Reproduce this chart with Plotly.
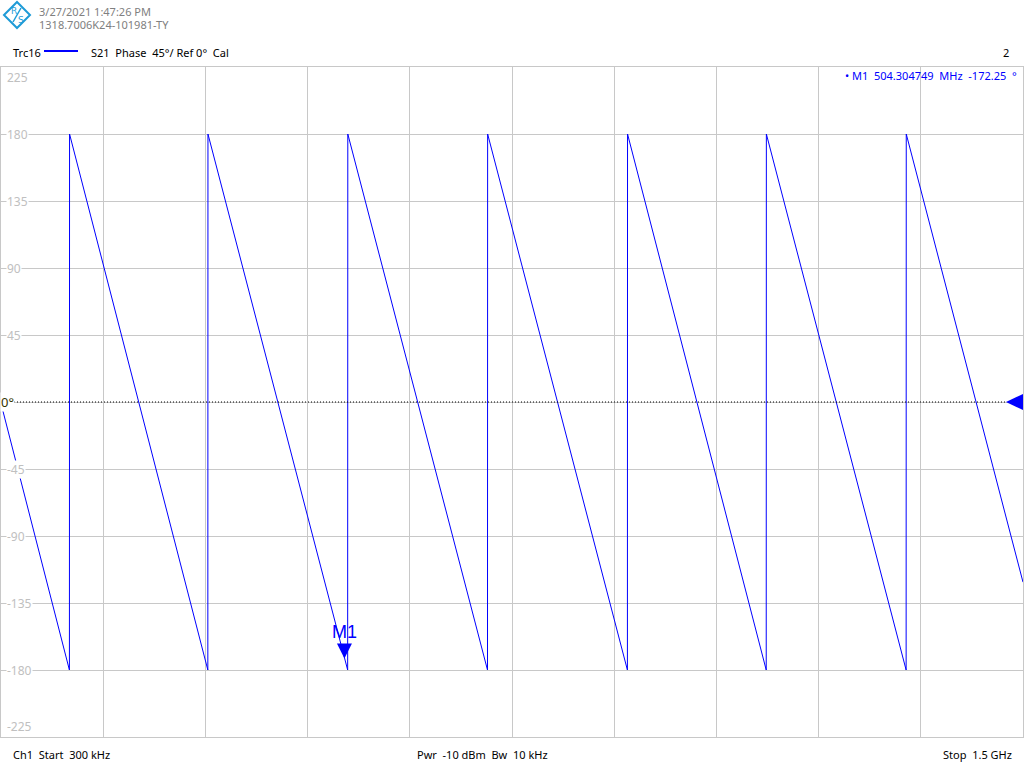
import plotly.graph_objects as go

# ---------------- data ----------------
freq_mhz = [0.3, 100.7, 100.9, 303.8, 304.0, 509.0, 509.2, 714.2, 714.4,
            919.5, 919.7, 1123.2, 1123.4, 1328.5, 1328.7, 1500.0]
phase_deg = [-1, -180, 180, -180, 180, -180, 180, -180, 180,
             -180, 180, -180, 180, -180, 180, -121]

y_ticks = [225, 180, 135, 90, 45, 0, -45, -90, -135, -180, -225]
y_tick_labels = ["225", "180", "135", "90", "45", "0°", "-45", "-90", "-135", "-180", "-225"]

x_start_mhz = 0.3
x_stop_mhz = 1500.0
x_divisions = 10

marker_name = "M1"
marker_freq_mhz = 504.304749
marker_phase_deg = -172.25

header_date = "3/27/2021 1:47:26 PM"
header_serial = "1318.7006K24-101981-TY"
trace_name = "Trc16"
trace_info = "S21  Phase  45°/ Ref 0°  Cal"
window_no = "2"
footer_left = "Ch1  Start  300 kHz"
footer_mid = "Pwr  -10 dBm  Bw  10 kHz"
footer_right = "Stop  1.5 GHz"

# ---------------- layout helpers ----------------
W, H = 1024, 768
PL, PR, PT, PB = 1, 1023, 67, 737  # plot area in pixels
FONT = "Noto Sans"
BLUE = "#0000FF"
GRID = "#C8C8C8"
LOGO = "#1E9BD7"


def px(x):
    return (x - PL) / (PR - PL)


def py(y):
    return (PB - y) / (PB - PT)


fig = go.Figure()
fig.add_trace(go.Scatter(x=freq_mhz, y=phase_deg, mode="lines",
                         line=dict(color=BLUE, width=1), hoverinfo="skip",
                         showlegend=False))

ann = []
shapes = []

# tick labels inside the plot
for v, t in zip(y_ticks, y_tick_labels):
    if v == 0:
        continue
    if v == y_ticks[0]:
        ya, ys = "top", -1
    elif v == y_ticks[-1]:
        ya, ys = "bottom", 1
    else:
        ya, ys = "middle", 0
    ann.append(dict(x=px(6), xref="paper", y=v, yref="y", text=t,
                    xanchor="left", yanchor=ya, yshift=ys, showarrow=False,
                    bgcolor="white", borderpad=0,
                    font=dict(family=FONT, size=12, color="#C0C0C0")))

# reference line at 0 (dotted) + label + left-pointing triangle
shapes.append(dict(type="line", xref="paper", yref="y", x0=px(14), x1=px(1007),
                   y0=0, y1=0, line=dict(color="black", width=1, dash="1px,2px")))
ann.append(dict(x=px(0), xref="paper", y=0, yref="y", text="0°",
                xanchor="left", yanchor="middle", showarrow=False,
                bgcolor="white", borderpad=0,
                font=dict(family=FONT, size=13, color="#333300")))
ref_tip_x = px(1006)
ref_base_x = px(1023)
dy = 8 / (PB - PT) * (y_ticks[0] - y_ticks[-1])
shapes.append(dict(type="path", xref="paper", yref="y",
                   path=f"M {ref_tip_x} 0 L {ref_base_x} {dy} L {ref_base_x} {-dy} Z",
                   fillcolor=BLUE, line=dict(width=0)))

# marker triangle (tip at the marker value) and label
mhz_per_px = (x_stop_mhz - x_start_mhz) / (PR - PL)
deg_per_px = (y_ticks[0] - y_ticks[-1]) / (PB - PT)
hw = 7.5 * mhz_per_px
th = 15 * deg_per_px
shapes.append(dict(type="path", xref="x", yref="y",
                   path=(f"M {marker_freq_mhz} {marker_phase_deg} "
                         f"L {marker_freq_mhz - hw} {marker_phase_deg + th} "
                         f"L {marker_freq_mhz + hw} {marker_phase_deg + th} Z"),
                   fillcolor=BLUE, line=dict(width=0)))
ann.append(dict(x=marker_freq_mhz, xref="x", y=marker_phase_deg + th, yref="y",
                text=marker_name, xanchor="center", yanchor="bottom", yshift=-1,
                showarrow=False,
                font=dict(family="Liberation Sans", size=18, color=BLUE)))

# marker readout
ann.append(dict(x=px(1019), xref="paper", y=py(75), yref="paper",
                text=f"• {marker_name}  {marker_freq_mhz:.6f}  MHz  {marker_phase_deg:.2f}  °",
                xanchor="right", yanchor="middle", showarrow=False,
                font=dict(family=FONT, size=11, color=BLUE)))

# header
ann.append(dict(x=px(37), xref="paper", y=py(11), yref="paper", text=header_date,
                xanchor="left", yanchor="middle", showarrow=False,
                font=dict(family=FONT, size=11, color="#808080")))
ann.append(dict(x=px(37), xref="paper", y=py(24), yref="paper", text=header_serial,
                xanchor="left", yanchor="middle", showarrow=False,
                font=dict(family=FONT, size=11, color="#808080")))
ann.append(dict(x=px(11), xref="paper", y=py(52), yref="paper", text=trace_name,
                xanchor="left", yanchor="middle", showarrow=False,
                font=dict(family=FONT, size=11, color="black")))
shapes.append(dict(type="line", xref="paper", yref="paper", x0=px(44), x1=px(78),
                   y0=py(51), y1=py(51), line=dict(color=BLUE, width=2)))
ann.append(dict(x=px(89), xref="paper", y=py(52), yref="paper", text=trace_info,
                xanchor="left", yanchor="middle", showarrow=False,
                font=dict(family=FONT, size=11, color="black")))
ann.append(dict(x=px(1011), xref="paper", y=py(52), yref="paper", text=window_no,
                xanchor="right", yanchor="middle", showarrow=False,
                font=dict(family=FONT, size=11, color="black")))

# footer
ann.append(dict(x=px(11), xref="paper", y=py(754), yref="paper", text=footer_left,
                xanchor="left", yanchor="middle", showarrow=False,
                font=dict(family=FONT, size=11, color="black")))
ann.append(dict(x=px(415), xref="paper", y=py(754), yref="paper", text=footer_mid,
                xanchor="left", yanchor="middle", showarrow=False,
                font=dict(family=FONT, size=11, color="black")))
ann.append(dict(x=px(1014), xref="paper", y=py(754), yref="paper", text=footer_right,
                xanchor="right", yanchor="middle", showarrow=False,
                font=dict(family=FONT, size=11, color="black")))

# logo (diamond with R/S)
cx, cy, r = 17, 15, 13
shapes.append(dict(type="path", xref="paper", yref="paper",
                   path=(f"M {px(cx - r)} {py(cy)} L {px(cx)} {py(cy - r)} "
                         f"L {px(cx + r)} {py(cy)} L {px(cx)} {py(cy + r)} Z"),
                   line=dict(color=LOGO, width=2), fillcolor="rgba(0,0,0,0)"))
shapes.append(dict(type="line", xref="paper", yref="paper",
                   x0=px(21), y0=py(8), x1=px(13), y1=py(22),
                   line=dict(color=LOGO, width=1.5)))
ann.append(dict(x=px(14), xref="paper", y=py(11), yref="paper", text="R",
                xanchor="center", yanchor="middle", showarrow=False,
                font=dict(family="DejaVu Sans", size=9, color=LOGO)))
ann.append(dict(x=px(20.5), xref="paper", y=py(19.5), yref="paper", text="S",
                xanchor="center", yanchor="middle", showarrow=False,
                font=dict(family="DejaVu Sans", size=9, color=LOGO)))

fig.update_layout(
    width=W, height=H,
    margin=dict(l=PL, r=W - PR, t=PT, b=H - PB, pad=0),
    paper_bgcolor="white", plot_bgcolor="white",
    showlegend=False,
    annotations=ann, shapes=shapes,
    font=dict(family=FONT),
)
fig.update_xaxes(range=[x_start_mhz, x_stop_mhz], tick0=x_start_mhz,
                 dtick=(x_stop_mhz - x_start_mhz) / x_divisions,
                 showticklabels=False, ticks="", showgrid=True, gridcolor=GRID,
                 gridwidth=1, zeroline=False, showline=True, linecolor=GRID,
                 mirror=True, fixedrange=True)
fig.update_yaxes(range=[y_ticks[-1], y_ticks[0]], tick0=0, dtick=45,
                 showticklabels=False, ticks="", showgrid=True, gridcolor=GRID,
                 gridwidth=1, zeroline=False, showline=True, linecolor=GRID,
                 mirror=True, fixedrange=True)

fig.write_html("out.html", config={"displayModeBar": False},
               post_script="document.body.style.margin='0';document.body.style.padding='0';document.body.style.overflow='hidden';")
